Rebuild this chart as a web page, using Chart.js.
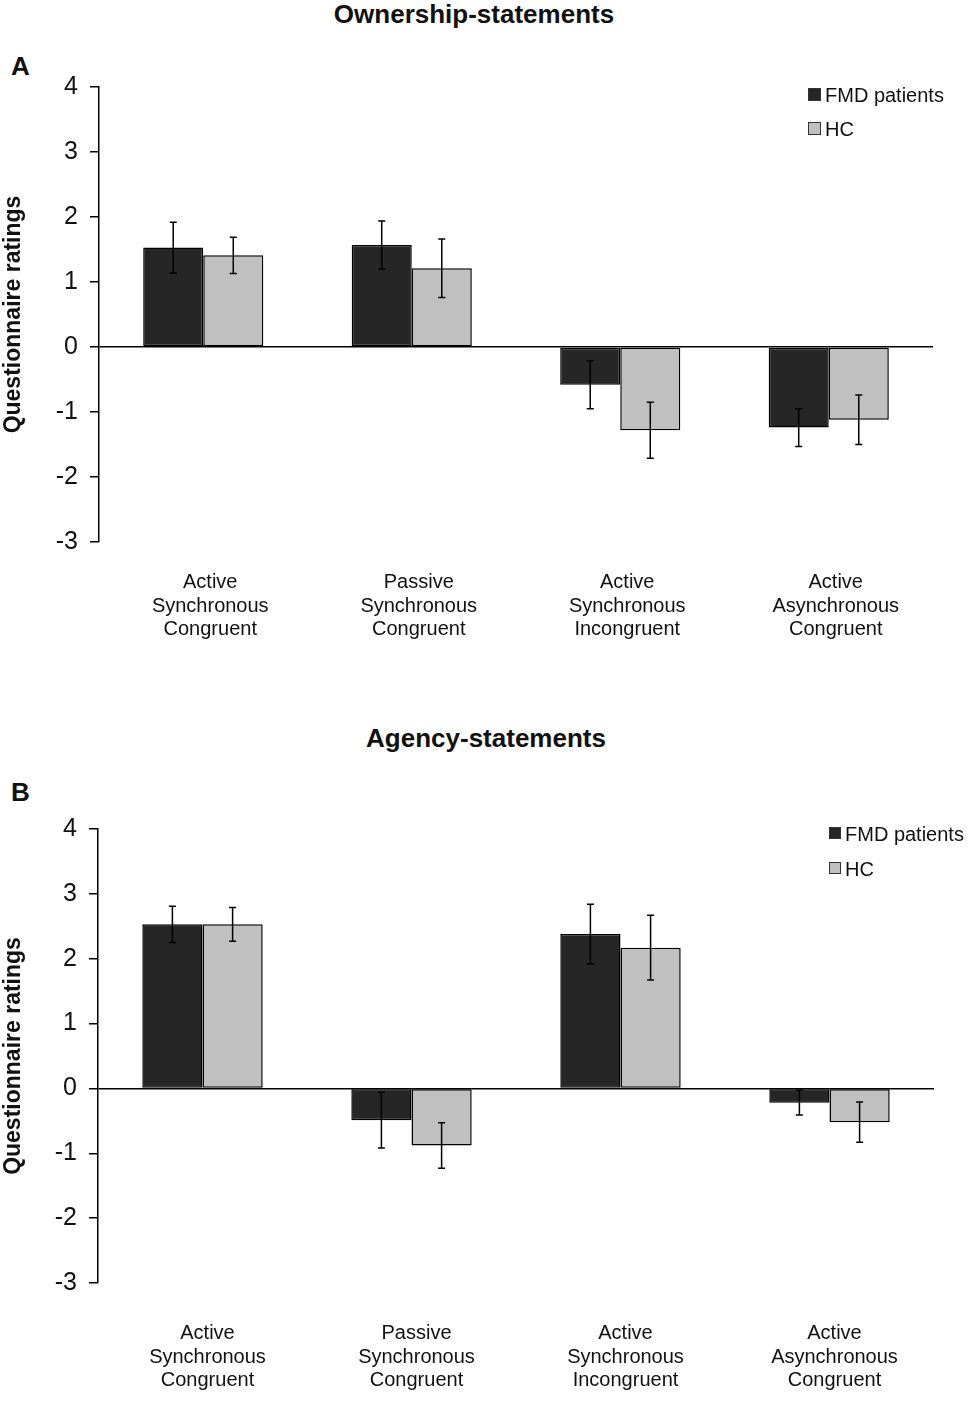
<!DOCTYPE html>
<html>
<head>
<meta charset="utf-8">
<script src="https://cdn.jsdelivr.net/npm/chart.js@4.4.1/dist/chart.umd.min.js"></script>
<style>
  body { margin: 0; background: #fff; }
  #wrap { position: relative; width: 970px; height: 1403px; }
  canvas { position: absolute; left: 0; }
  .txt { position: absolute; font-family: "Liberation Sans", Arial, sans-serif; font-weight: bold; font-size: 26px; line-height: 26px; color: #111; white-space: nowrap; }
  .title { width: 400px; text-align: center; }
</style>
</head>
<body>
<div id="wrap">
  <div class="txt title" style="left:274px; top:1px;">Ownership-statements</div>
  <div class="txt" style="left:11px; top:53px;">A</div>
  <canvas id="chartA" width="970" height="700" style="top:0px;"></canvas>
  <div class="txt title" style="left:286px; top:725px;">Agency-statements</div>
  <div class="txt" style="left:11px; top:779px;">B</div>
  <canvas id="chartB" width="970" height="703" style="top:700px;"></canvas>
</div>
<script>
var categories = [
	['Active', 'Synchronous', 'Congruent'],
	['Passive', 'Synchronous', 'Congruent'],
	['Active', 'Synchronous', 'Incongruent'],
	['Active', 'Asynchronous', 'Congruent']
];
var series_names = ['FMD patients', 'HC'];
var y_ticks = [4, 3, 2, 1, 0, -1, -2, -3];

/* A: ownership statements */
var own_fmd = [1.53, 1.57, -0.58, -1.24];
var own_fmd_err = [0.39, 0.37, 0.37, 0.29];
var own_hc = [1.41, 1.21, -1.28, -1.12];
var own_hc_err = [0.28, 0.45, 0.43, 0.38];

/* B: agency statements */
var agency_fmd = [2.53, -0.49, 2.38, -0.22];
var agency_fmd_err = [0.28, 0.43, 0.46, 0.19];
var agency_hc = [2.53, -0.88, 2.17, -0.52];
var agency_hc_err = [0.26, 0.35, 0.50, 0.31];

var FONT = '"Liberation Sans", Arial, sans-serif';
var INK = '#111';

/*
	Draw mean +/- error whiskers on top of each bar
*/
var errorBars = {
	id: 'errorBars',
	afterDatasetsDraw: function(chart) {
		var ctx = chart.ctx;
		var y = chart.scales.y;
		ctx.save();
		ctx.strokeStyle = '#000';
		ctx.lineWidth = 1.5;
		chart.data.datasets.forEach(function(ds, i) {
			var meta = chart.getDatasetMeta(i);
			meta.data.forEach(function(bar, j) {
				var v = ds.data[j];
				var e = ds.errors[j];
				var top = y.getPixelForValue(v + e);
				var bot = y.getPixelForValue(v - e);
				ctx.beginPath();
				ctx.moveTo(bar.x, top);
				ctx.lineTo(bar.x, bot);
				ctx.moveTo(bar.x - 3.5, top);
				ctx.lineTo(bar.x + 3.5, top);
				ctx.moveTo(bar.x - 3.5, bot);
				ctx.lineTo(bar.x + 3.5, bot);
				ctx.stroke();
			});
		});
		ctx.restore();
	}
};

/*
	Small square legend, stacked, placed by plugin options
*/
var boxLegend = {
	id: 'boxLegend',
	afterDraw: function(chart, args, opts) {
		var ctx = chart.ctx;
		ctx.save();
		ctx.font = '20px ' + FONT;
		ctx.textBaseline = 'middle';
		chart.data.datasets.forEach(function(ds, i) {
			var cy = opts.y + i * opts.gap;
			ctx.fillStyle = ds.backgroundColor;
			ctx.fillRect(opts.x, cy - 8, opts.size, opts.size);
			ctx.strokeStyle = '#333';
			ctx.lineWidth = 1;
			ctx.strokeRect(opts.x + 0.5, cy - 7.5, opts.size - 1, opts.size - 1);
			ctx.fillStyle = INK;
			ctx.fillText(ds.label, opts.x + opts.size + 4, cy);
		});
		ctx.restore();
	}
};

function makeChart(id, fmd, fmdErr, hc, hcErr, cfg) {
	var ctx = document.getElementById(id).getContext('2d');
	return new Chart(ctx, {
		type: 'bar',
		data: {
			labels: categories,
			datasets: [{
				label: series_names[0],
				data: fmd,
				errors: fmdErr,
				backgroundColor: '#262626',
				borderColor: '#000',
				borderWidth: 1.5,
				borderSkipped: false
			}, {
				label: series_names[1],
				data: hc,
				errors: hcErr,
				backgroundColor: '#c0c0c0',
				borderColor: '#000',
				borderWidth: 1.5,
				borderSkipped: false
			}]
		},
		options: {
			responsive: false,
			animation: false,
			layout: { padding: cfg.padding },
			categoryPercentage: 0.576,
			barPercentage: 1,
			plugins: {
				legend: { display: false },
				tooltip: { enabled: false },
				boxLegend: cfg.legend
			},
			scales: {
				x: {
					grid: { display: false, drawTicks: false },
					border: { display: false },
					ticks: {
						color: INK,
						padding: cfg.labelPad,
						labelOffset: cfg.labelShift,
						maxRotation: 0,
						autoSkip: false,
						font: { family: FONT, size: 20, lineHeight: 1.175 }
					},
					afterFit: function(scale) { scale.height = 120; }
				},
				y: {
					min: -3,
					max: 4,
					afterBuildTicks: function(scale) {
						scale.ticks = y_ticks.map(function(v) { return { value: v }; });
					},
					grid: {
						color: function(c) { return c.tick && c.tick.value === 0 ? '#000' : 'rgba(0,0,0,0)'; },
						lineWidth: 1.5,
						tickColor: '#000',
						tickLength: 9
					},
					border: { color: '#000', width: 1.5 },
					ticks: {
						color: INK,
						padding: 12,
						font: { family: FONT, size: 25 }
					},
					title: {
						display: true,
						text: 'Questionnaire ratings',
						color: INK,
						padding: 0,
						font: { family: FONT, size: 23, weight: 'bold' }
					},
					afterFit: function(scale) { scale.width = cfg.axisX; }
				}
			}
		},
		plugins: [errorBars, boxLegend]
	});
}

makeChart('chartA', own_fmd, own_fmd_err, own_hc, own_hc_err, {
	padding: { top: 87, right: 37, bottom: 38, left: 0 },
	axisX: 99,
	labelPad: 29,
	labelShift: 7,
	legend: { x: 808, y: 96, gap: 34, size: 13 }
});

makeChart('chartB', agency_fmd, agency_fmd_err, agency_hc, agency_hc_err, {
	padding: { top: 129, right: 36, bottom: 0, left: 0 },
	axisX: 98,
	labelPad: 39,
	labelShift: 5,
	legend: { x: 829, y: 135, gap: 35, size: 12 }
});
</script>
</body>
</html>
